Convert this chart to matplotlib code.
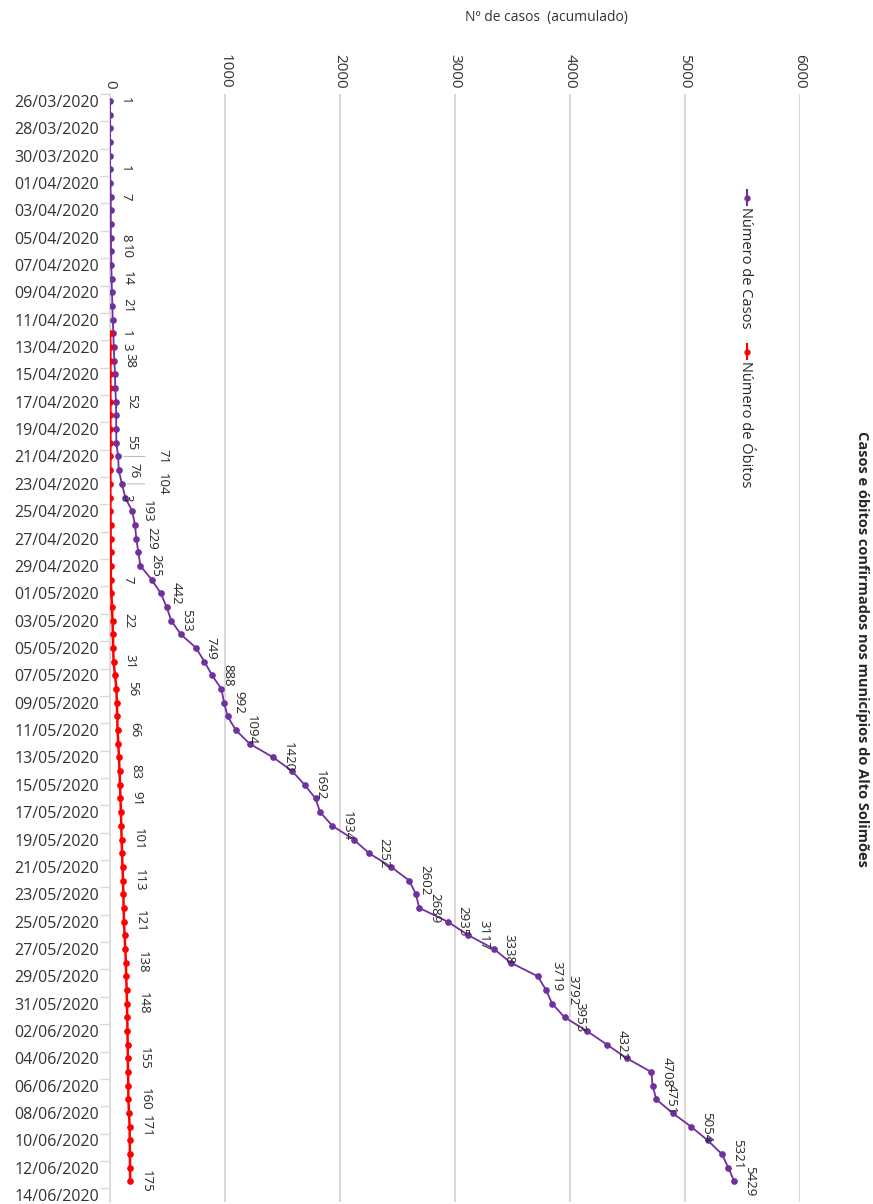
import matplotlib.pyplot as plt
from matplotlib.lines import Line2D
import numpy as np
import pandas as pd

plt.rcParams['font.family'] = ['Open Sans', 'DejaVu Sans']

# categorias: 26/03/2020 a 14/06/2020
dates = pd.date_range('2020-03-26', '2020-06-14', freq='D')
date_labels = [d.strftime('%d/%m/%Y') for d in dates]

# casos acumulados (26/03 .. 13/06)
cases = [1, 1, 1, 1, 1, 1, 4, 7, 7, 7, 8, 10, 12, 14, 17, 21, 23, 29, 33, 38,
         43, 46, 52, 54, 54, 55, 71, 76, 104, 133, 193, 217, 229, 246, 265, 362,
         442, 492, 533, 616, 749, 821, 888, 969, 992, 1023, 1094, 1214, 1420, 1584,
         1692, 1787, 1827, 1934, 2119, 2252, 2443, 2602, 2660, 2689, 2935, 3117, 3338,
         3484, 3719, 3792, 3845, 3953, 4148, 4322, 4495, 4708, 4718, 4751, 4892, 5054,
         5198, 5321, 5377, 5429]

# óbitos acumulados (12/04 .. 13/06)
deaths_start = 17
deaths = [1, 3, 3, 3, 3, 3, 3, 3, 3, 3, 3, 3, 3, 4, 5, 5, 6, 7, 7, 12, 17, 22,
          25, 28, 31, 44, 56, 59, 63, 66, 72, 78, 83, 87, 91, 95, 98, 101, 105,
          109, 113, 116, 119, 121, 127, 133, 138, 141, 145, 148, 150, 152, 154,
          155, 157, 159, 160, 165, 171, 172, 173, 174, 175]

cases_lab = [0, 5, 7, 10, 11, 13, 15, 19, 22, 25, 26, 27, 28, 30, 32, 34, 36, 38,
             40, 42, 44, 46, 48, 50, 53, 55, 57, 59, 60, 61, 62, 64, 65, 67, 69,
             71, 73, 75, 77, 79]
deaths_lab = [17, 18, 29, 35, 38, 41, 43, 46, 49, 51, 54, 57, 60, 63, 66, 70, 73, 75, 79]

purple = '#7030A0'
red = '#FF0000'
txt = '#333333'

fig = plt.figure(figsize=(8.73, 12.04), dpi=100)
ax = fig.add_axes([110 / 873, 1 - 1202 / 1204, 690 / 873, 1108 / 1204])

yc = np.arange(len(cases))
yd = np.arange(deaths_start, deaths_start + len(deaths))
ax.plot(cases, yc, color=purple, lw=1.3, marker='o', ms=3.8, zorder=3)
ax.plot(deaths, yd, color=red, lw=1.8, marker='o', ms=3.8, zorder=4)

# rótulos de dados
special = {26: (32, True), 28: (29, True), 64: (14, False), 65: (19, False)}
for i in cases_lab:
    dx, lead = special.get(i, (11, False))
    props = dict(arrowstyle='-', color='#BFBFBF', lw=0.8, shrinkA=6, shrinkB=4) if lead else None
    ax.annotate(str(cases[i]), (cases[i], i), xytext=(dx, 0), textcoords='offset points',
                rotation=-90, ha='center', va='center', fontsize=9.5, color='#262626',
                arrowprops=props, zorder=5)
for i in deaths_lab:
    v = deaths[i - deaths_start]
    ax.annotate(str(v), (v, i), xytext=(12, 0), textcoords='offset points',
                rotation=-90, ha='center', va='center', fontsize=9.5, color='#262626', zorder=5)

ax.set_xlim(0, 6000)
ax.set_ylim(80.5, -0.5)
ax.xaxis.tick_top()
ax.set_xticks(range(0, 7000, 1000))
ax.set_xticklabels([str(v) for v in range(0, 7000, 1000)], rotation=-90, fontsize=11, color=txt)
ax.tick_params(axis='x', length=0, pad=4)
ax.grid(axis='x', color='#D9D9D9', lw=1.5)
ax.set_axisbelow(True)

ax.set_yticks(range(0, 81, 2))
ax.set_yticklabels(date_labels[::2], fontsize=11.5, color=txt)
ax.set_yticks(np.arange(-0.5, 81, 2), minor=True)
ax.tick_params(axis='y', which='major', length=0, pad=8)
ax.tick_params(axis='y', which='minor', length=7, color='#D9D9D9', width=1)

for s in ['top', 'right', 'bottom']:
    ax.spines[s].set_visible(False)
ax.spines['left'].set_color('#D9D9D9')
ax.spines['left'].set_linewidth(1.2)

fig.text(546 / 873, 1 - 18 / 1204, 'Nº de casos  (acumulado)', ha='center', va='center',
         fontsize=10, color=txt)

fig.text(862 / 873, 1 - 649 / 1204, 'Casos e óbitos confirmados nos municípios do Alto Solimões',
         rotation=-90, ha='center', va='center', fontsize=10.5, fontweight='bold', color='#262626')

# legenda (rotacionada)
for col, y0, name in [(purple, 190, 'Número de Casos'), (red, 344, 'Número de Óbitos')]:
    fig.add_artist(Line2D([747 / 873, 747 / 873], [1 - y0 / 1204, 1 - (y0 + 15) / 1204],
                          color=col, lw=1.5, transform=fig.transFigure))
    fig.add_artist(Line2D([747 / 873], [1 - (y0 + 7.5) / 1204], color=col, marker='o', ms=3.5,
                          transform=fig.transFigure))
    fig.text(746 / 873, 1 - (y0 + 17) / 1204, name, rotation=-90, ha='center', va='top',
             fontsize=10.5, color='#262626')

fig.savefig('out.png', dpi=100)
